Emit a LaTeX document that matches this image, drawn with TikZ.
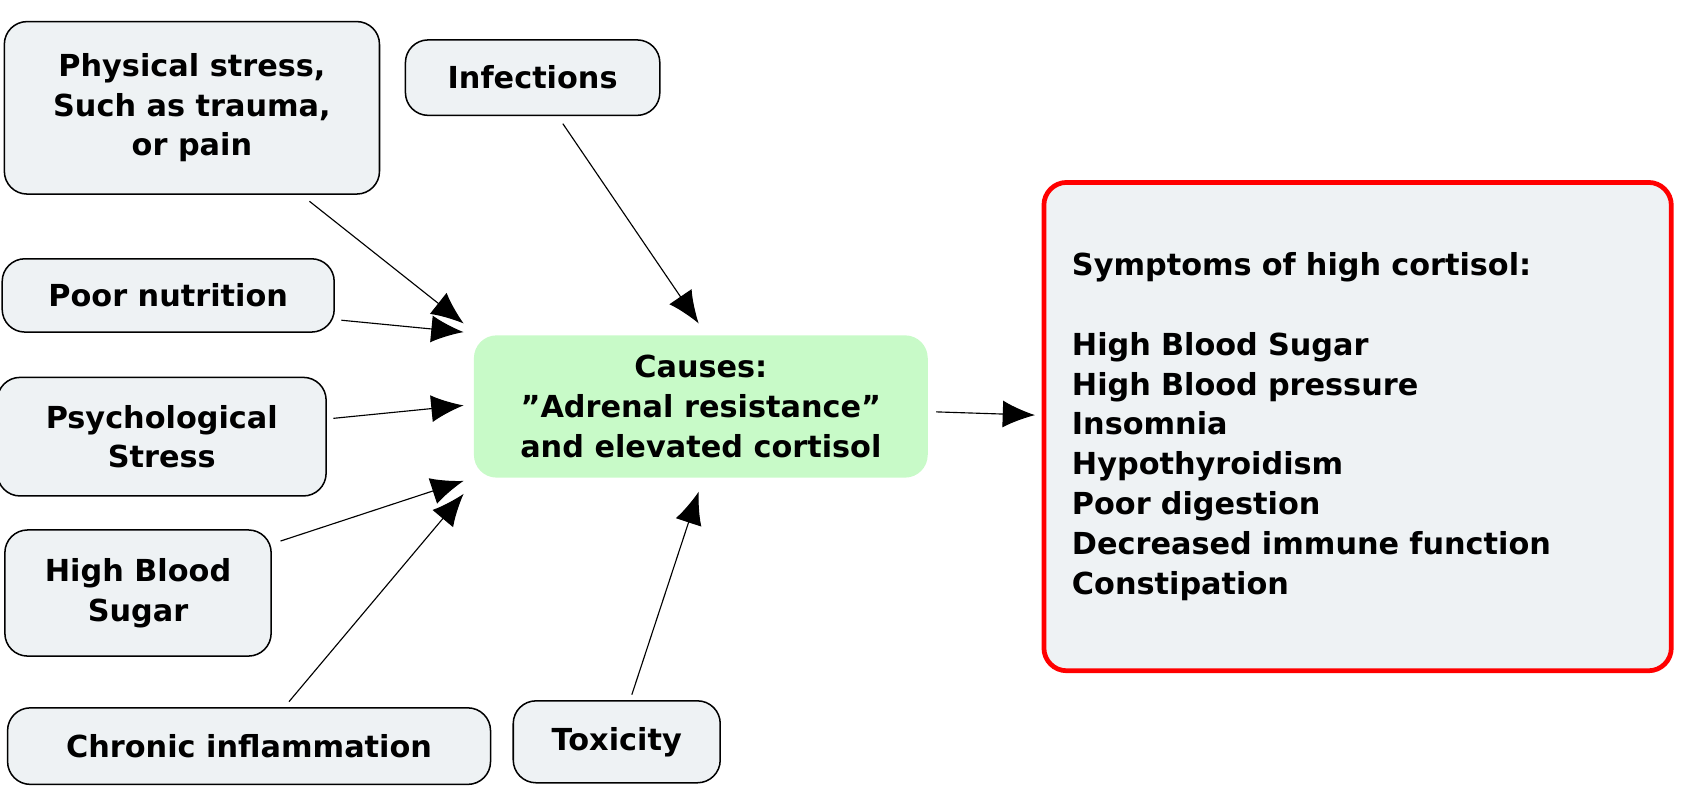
\documentclass[tikz,border=0pt]{standalone}
\usepackage{fontspec}
\setmainfont{DejaVu Sans}
\usetikzlibrary{arrows.meta,positioning}

\definecolor{boxfill}{HTML}{EEF2F4}
\definecolor{causefill}{HTML}{C8FAC8}

\begin{document}
\begin{tikzpicture}[x=0.02cm, y=-0.02cm]
	\tikzset{cause/.style={rectangle, rounded corners=12pt, draw=black, thick, fill=boxfill, align=center, font=\fontsize{16}{21}\selectfont\bfseries},
	link/.style={-{Latex[length=6mm, width=5mm]}, semithick}};

	\useasboundingbox (0,0) rectangle (1560,740);

	\node[cause, minimum width=6.96cm, minimum height=3.2cm] (phys) at (178,100) {Physical stress,\\Such as trauma,\\or pain};
	\node[cause, minimum width=4.72cm, minimum height=1.4cm] (infect) at (494,72) {Infections};
	\node[cause, minimum width=6.16cm, minimum height=1.36cm] (poor) at (156,274) {Poor nutrition};
	\node[cause, minimum width=6.1cm, minimum height=2.2cm] (psych) at (150,405) {Psychological\\Stress};
	\node[cause, minimum width=4.94cm, minimum height=2.34cm] (hbs) at (128,550) {High Blood\\Sugar};
	\node[cause, minimum width=8.96cm, minimum height=1.42cm] (chronic) at (231,692) {Chronic inflammation};
	\node[cause, minimum width=3.84cm, minimum height=1.52cm] (tox) at (572,688) {Toxicity};

	\node[cause, draw=none, fill=causefill, minimum width=8.42cm, minimum height=2.64cm] (causes) at (650,377) {Causes:\\"Adrenal resistance"\\and elevated cortisol};

	\node[cause, draw=red, line width=2.5pt, align=left, anchor=north west, text width=10.6cm, minimum width=11.64cm, minimum height=9.06cm, inner sep=14pt, inner ysep=18pt] (symptoms) at (966,167) {Symptoms of high cortisol:\\[\baselineskip]High Blood Sugar\\High Blood pressure\\Insomnia\\Hypothyroidism\\Poor digestion\\Decreased immune function\\Constipation};

	% free ends near the central node
	\coordinate (a1) at (430,300);
	\coordinate (a2) at (648,300);
	\coordinate (a3) at (430,308);
	\coordinate (a4) at (430,376);
	\coordinate (a5) at (430,446);
	\coordinate (a6) at (430,458);
	\coordinate (a7) at (648,456);
	\coordinate (a8) at (960,385);

	\draw[link] ([shift={(109,6)}]phys.south) -- (a1);
	\draw[link] ([shift={(28,7)}]infect.south) -- (a2);
	\draw[link] ([shift={(6,23)}]poor.east) -- (a3);
	\draw[link] ([shift={(6,-17)}]psych.east) -- (a4);
	\draw[link] ([shift={(8,11)}]hbs.north east) -- (a5);
	\draw[link] ([shift={(37,-5)}]chronic.north) -- (a6);
	\draw[link] ([shift={(14,-5)}]tox.north) -- (a7);
	\draw[link] ([shift={(7,5)}]causes.east) -- (a8);
\end{tikzpicture}
\end{document}
